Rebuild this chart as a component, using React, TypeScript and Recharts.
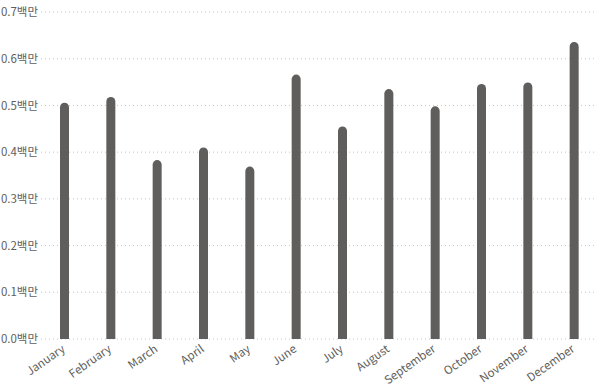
import { BarChart, Bar, XAxis, YAxis, CartesianGrid } from 'recharts';

const months = [
  'January', 'February', 'March', 'April', 'May', 'June',
  'July', 'August', 'September', 'October', 'November', 'December'
];
const sales = [
  506000, 518000, 383000, 410000, 369000, 566000,
  455000, 535000, 498000, 546000, 549000, 636000
];
const yTicks = [0, 100000, 200000, 300000, 400000, 500000, 600000, 700000];

const data = months.map((month, i) => ({ month, sales: sales[i] }));

const FONT = "'Segoe UI', 'Noto Sans CJK KR', sans-serif";
const TEXT = '#605E5C';

function MonthTick(props: any) {
  const { x, y, payload } = props;
  return (
    <g transform={`translate(${x - 3},${y + 3})`}>
      <text
        transform="rotate(-35)"
        textAnchor="end"
        dy="0.71em"
        fill={TEXT}
        fontSize={11.5}
        fontFamily={FONT}
      >
        {payload.value}
      </text>
    </g>
  );
}

export default function App() {
  return (
    <div style={{ position: 'absolute', left: 0, top: 0, background: '#fff' }}>
      <BarChart
        width={606}
        height={389}
        data={data}
        margin={{ top: 12, right: 9, bottom: 0, left: 0 }}
        barCategoryGap="40%"
      >
        <CartesianGrid vertical={false} stroke="#C8C6C4" strokeDasharray="1 3" />
        <XAxis
          dataKey="month"
          interval={0}
          height={50}
          tickLine={false}
          axisLine={false}
          tickSize={0}
          tick={<MonthTick />}
        />
        <YAxis
          width={41}
          domain={[0, 700000]}
          ticks={yTicks}
          tickLine={false}
          axisLine={false}
          tickSize={0}
          tickMargin={3}
          tick={{ fill: TEXT, fontSize: 11.5, fontFamily: FONT }}
          tickFormatter={(v: number) => `${(v / 1000000).toFixed(1)}백만`}
        />
        <Bar
          dataKey="sales"
          fill="#605E5C"
          barSize={9}
          radius={[4.5, 4.5, 0, 0]}
          isAnimationActive={false}
        />
      </BarChart>
    </div>
  );
}
